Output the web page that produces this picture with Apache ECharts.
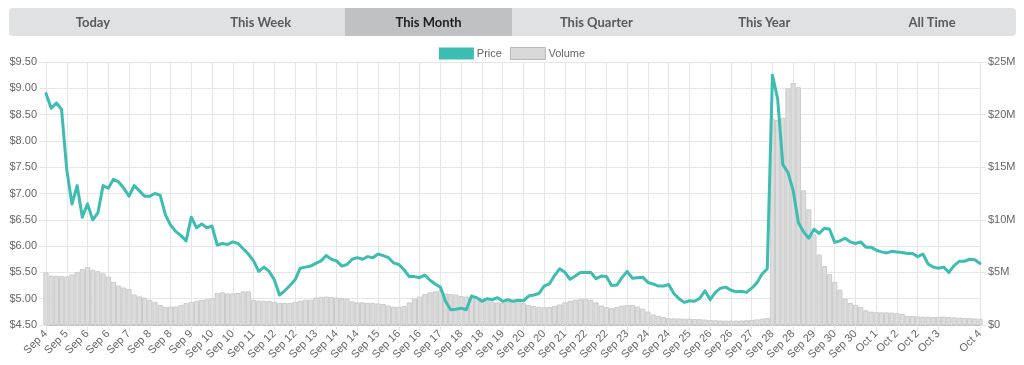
<!DOCTYPE html>
<html>
<head>
<meta charset="utf-8">
<script src="https://cdn.jsdelivr.net/npm/echarts@6/dist/echarts.min.js"></script>
<style>
  html, body { margin: 0; padding: 0; background: #fff; width: 1024px; height: 365px; overflow: hidden; }
  #tabs { position: absolute; left: 9px; top: 8px; width: 1007px; height: 28px; background: #e0e1e2; border-radius: 4px; display: flex; overflow: hidden; }
  #tabs div { flex: 1; text-align: center; line-height: 28px; font-family: Lato, "Open Sans", sans-serif; font-size: 13px; font-weight: 700; color: #5a5a5a; }
  #tabs div.active { background: #c0c1c2; color: #1f1f1f; }
  #chart { position: absolute; left: 0; top: 0; width: 1024px; height: 365px; }
</style>
</head>
<body>
<div id="chart"></div>
<div id="tabs"></div>
<script>
// ---- data ----
const tabNames = ["Today", "This Week", "This Month", "This Quarter", "This Year", "All Time"];
const activeTab = "This Month";

// one tick label every 4 data points (16h); index 44 is hidden like in the reference
const tickLabels = ["Sep 4","Sep 5","Sep 6","Sep 6","Sep 7","Sep 8","Sep 8","Sep 9","Sep 10","Sep 10",
  "Sep 11","Sep 12","Sep 12","Sep 13","Sep 14","Sep 14","Sep 15","Sep 16","Sep 16","Sep 17",
  "Sep 18","Sep 18","Sep 19","Sep 20","Sep 20","Sep 21","Sep 22","Sep 22","Sep 23","Sep 24",
  "Sep 24","Sep 25","Sep 26","Sep 26","Sep 27","Sep 28","Sep 28","Sep 29","Sep 30","Sep 30",
  "Oct 1","Oct 2","Oct 2","Oct 3","Oct 4","Oct 4"];
const hiddenTick = 44;
const pointsPerTick = 4;

const price = [
  8.9, 8.62, 8.72, 8.6, 7.45, 6.8, 7.15, 6.55, 6.8, 6.5,
  6.63, 7.15, 7.1, 7.27, 7.22, 7.1, 6.95, 7.15, 7.05, 6.95,
  6.95, 7.0, 6.97, 6.6, 6.4, 6.28, 6.2, 6.1, 6.55, 6.35,
  6.42, 6.35, 6.38, 6.02, 6.05, 6.03, 6.08, 6.05, 5.95, 5.85,
  5.72, 5.52, 5.6, 5.52, 5.36, 5.07, 5.15, 5.25, 5.36, 5.58,
  5.6, 5.62, 5.67, 5.72, 5.82, 5.75, 5.72, 5.62, 5.65, 5.75,
  5.78, 5.75, 5.8, 5.78, 5.85, 5.82, 5.78, 5.68, 5.65, 5.55,
  5.42, 5.42, 5.4, 5.45, 5.35, 5.28, 5.22, 4.95, 4.79, 4.8,
  4.82, 4.79, 5.05, 5.02, 4.95, 5.0, 4.98, 5.02, 4.95, 4.98,
  4.95, 4.97, 4.96, 5.05, 5.07, 5.1, 5.24, 5.28, 5.44, 5.57,
  5.5, 5.37, 5.43, 5.5, 5.5, 5.5, 5.38, 5.43, 5.42, 5.25,
  5.26, 5.4, 5.52, 5.39, 5.4, 5.41, 5.31, 5.28, 5.24, 5.24,
  5.27, 5.1, 5.0, 4.93, 4.96, 4.95, 5.01, 5.15, 4.98, 5.12,
  5.2, 5.22, 5.16, 5.13, 5.14, 5.12, 5.2, 5.3, 5.47, 5.57,
  9.25, 8.8, 7.55, 7.4, 7.05, 6.45, 6.27, 6.15, 6.32, 6.24,
  6.34, 6.32, 6.07, 6.1, 6.15, 6.08, 6.05, 6.08, 5.98, 5.98,
  5.92, 5.89, 5.87, 5.9, 5.89, 5.88, 5.86, 5.86, 5.8, 5.85,
  5.66, 5.6, 5.58, 5.6, 5.5, 5.63, 5.71, 5.71, 5.75, 5.74,
  5.67
];

// volume in millions of dollars
const volumeM = [
  5.0, 4.7, 4.68, 4.65, 4.62, 4.8, 5.05, 5.3, 5.5, 5.25,
  5.12, 4.9, 4.6, 4.1, 3.75, 3.55, 3.42, 2.9, 2.72, 2.6,
  2.38, 2.2, 1.9, 1.74, 1.74, 1.76, 1.9, 2.1, 2.2, 2.3,
  2.38, 2.45, 2.55, 3.05, 3.1, 3.0, 3.0, 3.05, 3.2, 3.2,
  2.38, 2.32, 2.3, 2.3, 2.2, 2.1, 2.1, 2.1, 2.2, 2.3,
  2.4, 2.4, 2.6, 2.68, 2.7, 2.65, 2.6, 2.55, 2.5, 2.25,
  2.15, 2.15, 2.1, 2.1, 2.05, 2.0, 1.85, 1.74, 1.74, 1.8,
  2.15, 2.5, 2.7, 2.95, 3.1, 3.2, 3.3, 3.0, 2.95, 2.9,
  2.75, 2.7, 2.6, 2.6, 2.5, 2.3, 2.2, 2.15, 2.1, 2.2,
  2.3, 2.25, 2.1, 1.9, 1.8, 1.74, 1.68, 1.7, 1.82, 1.95,
  2.15, 2.3, 2.4, 2.45, 2.5, 2.4, 2.15, 1.85, 1.7, 1.6,
  1.7, 1.85, 1.9, 1.9, 1.75, 1.55, 1.27, 1.0, 0.85, 0.75,
  0.65, 0.63, 0.62, 0.6, 0.6, 0.57, 0.55, 0.52, 0.48, 0.45,
  0.43, 0.42, 0.42, 0.42, 0.43, 0.45, 0.48, 0.53, 0.6, 0.65,
  19.6, 19.5, 19.7, 22.5, 23.0, 22.6, 12.8, 11.0, 8.6, 6.7,
  5.6, 4.85, 4.1, 3.35, 2.5, 2.1, 1.9, 1.72, 1.4, 1.27,
  1.22, 1.2, 1.2, 1.18, 1.12, 1.05, 0.87, 0.85, 0.82, 0.8,
  0.78, 0.76, 0.78, 0.8, 0.75, 0.72, 0.7, 0.67, 0.65, 0.63,
  0.6
];

// ---- tabs ----
const tabs = document.getElementById('tabs');
tabNames.forEach(n => {
  const d = document.createElement('div');
  d.textContent = n;
  if (n === activeTab) d.className = 'active';
  tabs.appendChild(d);
});

// ---- chart ----
const categories = price.map((_, i) => (i % pointsPerTick === 0 ? tickLabels[i / pointsPerTick] : ''));
const volume = volumeM.map(v => v * 1e6);
const showTick = (i) => i % pointsPerTick === 0 && i / pointsPerTick !== hiddenTick;

const gridColor = '#e6e6e6';
const textColor = '#666';
const font = 'Arial, "Liberation Sans", sans-serif';

const chart = echarts.init(document.getElementById('chart'), null, { renderer: 'canvas' });
chart.setOption({
  animation: false,
  legend: {
    top: 42,
    left: 'center',
    itemWidth: 35,
    itemHeight: 12,
    itemGap: 8,
    textStyle: { color: textColor, fontSize: 11, fontFamily: font, padding: [0, 0, 0, -2] },
    data: [
      { name: 'Price', icon: 'rect', itemStyle: { color: '#3dbdb1' } },
      { name: 'Volume', icon: 'rect', itemStyle: { color: '#d9d9d9', borderColor: '#b8b8b8', borderWidth: 1 } }
    ]
  },
  grid: { left: 46, right: 44, top: 62, bottom: 40, containLabel: false },
  xAxis: {
    type: 'category',
    data: categories,
    boundaryGap: false,
    axisLine: { show: true, lineStyle: { color: '#c4c4c4', width: 1 } },
    axisTick: { show: true, interval: showTick, length: 6, lineStyle: { color: gridColor } },
    splitLine: { show: true, interval: showTick, lineStyle: { color: gridColor, width: 1 } },
    axisLabel: {
      interval: showTick,
      rotate: 45,
      margin: 7,
      color: textColor,
      fontSize: 11,
      fontFamily: font
    }
  },
  yAxis: [
    {
      type: 'value',
      min: 4.5,
      max: 9.5,
      interval: 0.5,
      position: 'left',
      axisLine: { show: true, lineStyle: { color: gridColor } },
      axisTick: { show: true, length: 7, lineStyle: { color: gridColor } },
      splitLine: { show: true, lineStyle: { color: gridColor } },
      axisLabel: {
        formatter: v => '$' + v.toFixed(2),
        color: textColor, fontSize: 11, fontFamily: font, margin: 9
      }
    },
    {
      type: 'value',
      min: 0,
      max: 25e6,
      interval: 5e6,
      position: 'right',
      axisLine: { show: true, lineStyle: { color: gridColor } },
      axisTick: { show: true, length: 6, lineStyle: { color: gridColor } },
      splitLine: { show: false },
      axisLabel: {
        formatter: v => (v === 0 ? '$0' : '$' + (v / 1e6) + 'M'),
        color: textColor, fontSize: 11, fontFamily: font, margin: 8
      }
    }
  ],
  series: [
    {
      name: 'Price',
      type: 'line',
      data: price,
      yAxisIndex: 0,
      showSymbol: false,
      symbol: 'none',
      z: 3,
      lineStyle: { color: '#3dbdb1', width: 3, join: 'round', cap: 'round' },
      itemStyle: { color: '#3dbdb1' }
    },
    {
      name: 'Volume',
      type: 'bar',
      data: volume,
      yAxisIndex: 1,
      barWidth: '100%',
      z: 1,
      itemStyle: { color: '#dcdcdc', borderColor: '#cbcbcb', borderWidth: 1 }
    }
  ]
});
</script>
</body>
</html>
